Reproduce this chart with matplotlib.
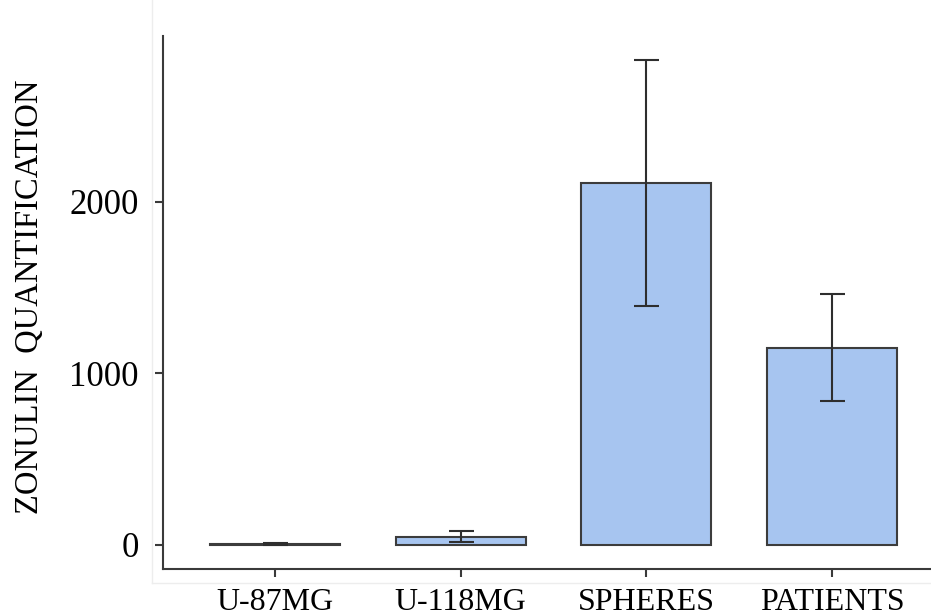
import matplotlib
matplotlib.use("Agg")
import matplotlib.pyplot as plt
from matplotlib.lines import Line2D

groups = ["U-87MG", "U-118MG", "SPHERES", "PATIENTS"]
means = [6, 47, 2110, 1150]
errs = [5, 32, 715, 312]
yticks = [0, 1000, 2000]

plt.rcParams['font.family'] = ['Liberation Serif', 'DejaVu Serif']

fig = plt.figure(figsize=(9.31, 6.16), dpi=100)
ax = fig.add_axes([163/931, 1 - 569/616, 1 - 163/931, (569 - 36)/616])

x = list(range(len(groups)))
ax.bar(x, means, width=0.7, color="#a7c5f0", edgecolor="#3c3c3c", linewidth=1.5, zorder=2)
ax.errorbar(x, means, yerr=errs, fmt="none", ecolor="#2e2e2e", elinewidth=1.5,
            capsize=9, capthick=1.5, zorder=3)

ax.set_xlim(-0.603, 3.533)
ax.set_ylim(-140, 2965)
ax.set_xticks(x)
ax.set_xticklabels(groups, fontsize=23)
ax.set_yticks(yticks)
ax.set_yticklabels([str(t) for t in yticks], fontsize=25)

for s in ["top", "right"]:
    ax.spines[s].set_visible(False)
for s in ["left", "bottom"]:
    ax.spines[s].set_color("#3a3a3a")
    ax.spines[s].set_linewidth(1.5)
ax.tick_params(axis="both", direction="out", length=5.5, width=1.5, color="#3a3a3a")
ax.tick_params(axis="y", pad=12)
ax.tick_params(axis="x", pad=8)

ax.set_ylabel("ZONULIN  QUANTIFICATION", fontsize=23.5)
ax.yaxis.set_label_coords(-0.153, 0.51)

# thin light frame around the panel
fig.add_artist(Line2D([152/931, 152/931], [1 - 583/616, 1.0], color="#ededed", lw=1))
fig.add_artist(Line2D([152/931, 1.0], [1 - 583/616, 1 - 583/616], color="#ededed", lw=1))

fig.savefig("out.png", dpi=100)
